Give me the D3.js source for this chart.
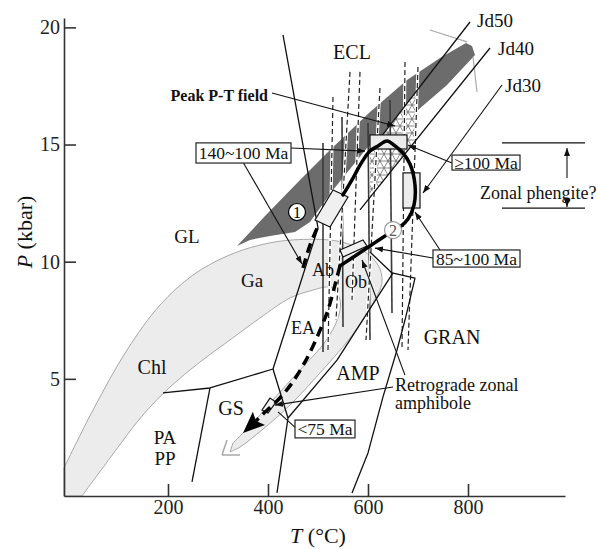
<!DOCTYPE html>
<html><head><meta charset="utf-8">
<script src="https://cdn.jsdelivr.net/npm/d3@7"></script>
<style>body{margin:0;background:#fff}svg{display:block}</style>
</head><body>
<svg id="c" width="598" height="549"></svg>
<script>
// ---------- data (T in °C, P in kbar) ----------
const tickP = [5, 10, 15, 20];
const tickT = [200, 400, 600, 800];

const darkBand = [[338,10.67],[394,11.95],[464,13.49],[524,14.77],[604,16.39],[678,17.75],[744,18.69],[796,19.33],[808,19.21],[814,18.82],[758,17.54],[700,16.47],[598,14.85],[530,13.06],[484,11.69],[454,11.27],[404,11.1],[364,10.93]];
const bandOuter = [[-8,1.2],[50,3.67],[118,6.23],[184,8.15],[250,9.43],[318,10.24],[384,10.71],[450,10.93],[538,10.88],[588,10.5],[620,9.86],[628,9.13],[608,8.15],[564,6.74],[500,5.16],[444,3.88],[388,2.82],[344,2.09],[324,1.88]];
const bandInner = [[330,2.26],[370,3.12],[410,4.1],[464,5.38],[514,6.57],[540,7.6],[544,8.37],[526,8.9],[484,8.75],[444,8.45],[384,7.6],[324,6.66],[264,5.72],[204,4.65],[150,3.46],[84,1.62],[28,0]];
const bandCorner = [-8, 0];
const bandArrowTip = [308, 1.75];
const bandArrowBarbs = [[344, 1.75], [318, 2.39]];
const greyLines = [[[724,19.89],[798,19.38]], [[810,18.74],[818,17.24]]];

const peakField = [[604,14.72],[698,17.33],[698,15.24],[604,12.72]];

// vertical isopleth-like lines: top T, top P, bottom T, bottom P, dashed?
const vTopT = [510, 530, 548, 564, 584, 600, 624, 644, 674, 700];
const vTopP = [15.07, 17.03, 16.18, 18.1, 18.1, 15.92, 17.41, 16.9, 18.52, 18.31];
const vBotT = [510, 520, 550, 536, 568, 604, 596, 648, 668, 680];
const vBotP = [6.15, 6.23, 7.21, 7.51, 8.37, 6.66, 6.66, 7.81, 6.23, 6.23];
const vDashed = [false, true, false, true, true, false, true, false, true, true];

const faciesLines = [
  [[430,19.68],[500,11.44],[410,5.42]],
  [[190,4.4],[284,4.61],[410,5.42]],
  [[284,4.61],[248,0.6]],
  [[410,5.42],[440,3.33],[418,0.13]],
  [[440,3.33],[538,5.8],[650,9.52]],
  [[604,10.41],[648,9.52],[694,9.3],[674,7.51],[658,6.23],[630,4.23],[600,1.84],[568,0.13]]
];
const jdLines = [
  [[804,20.23],[604,14.72]],
  [[844,19.12],[584,12.21]]
];
// leader lines: from, to, arrow?
const leaderFrom = [[408,17.2],[446,14.85],[344,14.47],[768,14.21],[730,10.16],[744,10.5],[674,5.16],[650,4.65],[456,2.9],[868,17.54]];
const leaderTo   = [[654,15.79],[594,14.72],[468,9.9],[680,14.98],[614,10.58],[694,12.12],[588,10.07],[414,3.88],[420,3.59],[710,12.93]];
const leaderArrow = [true, true, true, true, true, true, true, true, false, true];

// sample rectangles (light filled)
const rectTilted = [
  [[494,11.78],[530,13.06],[560,12.76],[524,11.48]],
  [[544,10.5],[590,10.93],[598,10.67],[550,10.2]],
  [[388,3.67],[404,4.18],[416,4.01],[400,3.54]]
];
const rectAxis = [[604,15.41,678,14.81],[670,13.79,704,12.29]];

// P-T path
const pathSolid = [[550,12.85],[570,13.57],[588,14.26],[604,14.72],[620,14.94],[638,15.15],[654,14.94],[668,14.68],[684,14.17],[694,13.27],[692,12.42],[680,11.82],[664,11.48],[634,11.1],[604,10.67],[574,10.24],[544,9.82]];
const pathPrograde = [[470,9.73],[484,10.71],[500,11.52]];
const pathRetro = [[544,9.82],[534,9.01],[520,7.94],[500,6.87],[476,5.8],[448,4.82],[420,4.1],[388,3.46],[376,3.2]];
const retroTip = [350, 2.69];

const circleLabels = [["1", 458, 12.12, "#000", "#000"], ["2", 650, 11.35, "#999", "#555"]];

// boxed age labels: text, T1, P1, T2, P2
const boxText = ["140~100 Ma", "≥100 Ma", "85~100 Ma", "<75 Ma"];
const boxT1 = [256, 768, 730, 454];
const boxP1 = [15.07, 14.55, 10.5, 3.24];
const boxT2 = [446, 904, 904, 574];
const boxP2 = [14.21, 13.91, 9.77, 2.48];

// free labels: text, T, P, size, anchor, weight
const labels = [
  ["ECL", 568, 18.95, 20, "middle", "normal"],
  ["Peak P-T field", 400, 17.11, 16, "end", "bold"],
  ["GL", 238, 11.1, 19, "middle", "normal"],
  ["Ga", 368, 9.22, 19, "middle", "normal"],
  ["Ab", 510, 9.65, 18, "middle", "normal"],
  ["Ob", 576, 9.13, 18, "middle", "normal"],
  ["EA", 470, 7.17, 18, "middle", "normal"],
  ["Chl", 168, 5.51, 20, "middle", "normal"],
  ["GS", 326, 3.76, 20, "middle", "normal"],
  ["PA", 194, 2.52, 19, "middle", "normal"],
  ["PP", 194, 1.62, 19, "middle", "normal"],
  ["AMP", 580, 5.25, 20, "middle", "normal"],
  ["GRAN", 768, 6.79, 20, "middle", "normal"],
  ["Retrograde zonal", 654, 4.74, 18, "start", "normal"],
  ["amphibole", 654, 3.97, 18, "start", "normal"],
  ["Jd50", 818, 20.32, 19, "start", "normal"],
  ["Jd40", 860, 19.12, 19, "start", "normal"],
  ["Jd30", 874, 17.54, 19, "start", "normal"],
  ["Zonal phengite?", 824, 12.93, 18, "start", "normal"]
];
const zonalBarsP = [15.07, 12.29];
const zonalBarsT = [868, 1034];
const zonalArrowT = 998;
const zonalArrowUp = [13.57, 14.85];
const zonalArrowDown = [12.63, 12.33];

// ---------- drawing ----------
const FONT = "'Liberation Serif','Times New Roman',serif";
const svg = d3.select("#c");
const x = d3.scaleLinear().domain([-8, 994]).range([64, 565]);
const y = d3.scaleLinear().domain([0, 20.4]).range([496, 18]);
const line = d3.line().x(d => x(d[0])).y(d => y(d[1]));
const curve = d3.line().x(d => x(d[0])).y(d => y(d[1])).curve(d3.curveCatmullRom.alpha(0.5));

const defs = svg.append("defs");
defs.append("marker").attr("id", "arr").attr("viewBox", "0 0 8 6").attr("refX", 8).attr("refY", 3)
  .attr("markerWidth", 8).attr("markerHeight", 6).attr("markerUnits", "userSpaceOnUse").attr("orient", "auto")
  .append("path").attr("d", "M0,0L8,3L0,6Z").attr("fill", "#111");
const pat = defs.append("pattern").attr("id", "tri").attr("patternUnits", "userSpaceOnUse")
  .attr("width", 8).attr("height", 14);
pat.append("rect").attr("width", 8).attr("height", 14).attr("fill", "#fff");
pat.append("path").attr("d", "M0,0L8,14M8,0L0,14M0,0L8,0M0,7L8,7M0,14L8,14")
  .attr("stroke", "#555").attr("stroke-width", 0.7).attr("fill", "none");

// light band
const dBand = curve(bandOuter) + "L" + curve(bandInner).slice(1) + "L" + x(bandCorner[0]) + "," + y(bandCorner[1]) + "Z";
svg.append("path").attr("d", dBand).attr("fill", "#ececec").attr("stroke", "#a8a8a8").attr("stroke-width", 1);
bandArrowBarbs.forEach(b => svg.append("path").attr("d", line([bandArrowTip, b]))
  .attr("stroke", "#a8a8a8").attr("stroke-width", 1.5).attr("fill", "none"));

// dark band
svg.append("path").attr("d", line(darkBand) + "Z").attr("fill", "#6c6c6c").attr("stroke", "none");
greyLines.forEach(g => svg.append("path").attr("d", line(g)).attr("stroke", "#aaa").attr("stroke-width", 1.2).attr("fill", "none"));

// peak field hatch
svg.append("path").attr("d", line(peakField) + "Z").attr("fill", "url(#tri)").attr("stroke", "none");

// vertical lines
vTopT.forEach((t, i) => {
  const pts = [[t, vTopP[i]], [vBotT[i], vBotP[i]]];
  if (vDashed[i]) {
    svg.append("path").attr("d", line(pts)).attr("stroke", "#fff").attr("stroke-width", 3).attr("fill", "none");
    svg.append("path").attr("d", line(pts)).attr("stroke", "#222").attr("stroke-width", 1.2)
      .attr("stroke-dasharray", "5,3").attr("fill", "none");
  } else {
    svg.append("path").attr("d", line(pts)).attr("stroke", "#3a3a3a").attr("stroke-width", 1.6).attr("fill", "none");
  }
});

// facies boundaries and Jd lines
faciesLines.concat(jdLines).forEach(l => svg.append("path").attr("d", line(l))
  .attr("stroke", "#111").attr("stroke-width", 1.3).attr("fill", "none").attr("stroke-linejoin", "round"));

// leaders
leaderFrom.forEach((f, i) => {
  const p = svg.append("path").attr("d", line([f, leaderTo[i]])).attr("stroke", "#111")
    .attr("stroke-width", 1.1).attr("fill", "none");
  if (leaderArrow[i]) p.attr("marker-end", "url(#arr)");
});

// zonal phengite markers
zonalBarsP.forEach(p => svg.append("path").attr("d", line([[zonalBarsT[0], p], [zonalBarsT[1], p]]))
  .attr("stroke", "#111").attr("stroke-width", 1.2));
svg.append("path").attr("d", line([[zonalArrowT, zonalArrowUp[0]], [zonalArrowT, zonalArrowUp[1]]]))
  .attr("stroke", "#111").attr("stroke-width", 1.1).attr("marker-end", "url(#arr)");
svg.append("path").attr("d", line([[zonalArrowT, zonalArrowDown[0]], [zonalArrowT, zonalArrowDown[1]]]))
  .attr("stroke", "#111").attr("stroke-width", 1.1).attr("marker-end", "url(#arr)");

// axes
const ax = svg.append("g").attr("transform", `translate(${x(-8)},0)`)
  .call(d3.axisLeft(y).tickValues(tickP).tickSize(-12).tickSizeOuter(0).tickPadding(4));
const bx = svg.append("g").attr("transform", `translate(0,${y(0)})`)
  .call(d3.axisBottom(x).tickValues(tickT).tickSize(-12).tickSizeOuter(0).tickPadding(4));
[ax, bx].forEach(g => {
  g.selectAll("path,line").attr("stroke", "#333").attr("stroke-width", 1.6);
  g.selectAll("text").attr("font-family", FONT).attr("font-size", 20).attr("fill", "#222");
});

// rectangles
rectTilted.forEach(r => svg.append("path").attr("d", line(r) + "Z").attr("fill", "#f0f0f0")
  .attr("stroke", "#111").attr("stroke-width", 1.2));
rectAxis.forEach(r => svg.append("rect").attr("x", x(r[0])).attr("y", y(r[1]))
  .attr("width", x(r[2]) - x(r[0])).attr("height", y(r[3]) - y(r[1]))
  .attr("fill", "#ececec").attr("stroke", "#111").attr("stroke-width", 1.2));

// P-T path
svg.append("path").attr("d", curve(pathSolid)).attr("fill", "none").attr("stroke", "#000")
  .attr("stroke-width", 3.5).attr("stroke-linecap", "round");
svg.append("path").attr("d", curve(pathPrograde)).attr("fill", "none").attr("stroke", "#000")
  .attr("stroke-width", 3.5).attr("stroke-dasharray", "10,6");
svg.append("path").attr("d", curve(pathRetro)).attr("fill", "none").attr("stroke", "#000")
  .attr("stroke-width", 3.5).attr("stroke-dasharray", "10,6");
{
  const b = pathRetro[pathRetro.length - 1];
  const bx0 = x(b[0]), by0 = y(b[1]), tx = x(retroTip[0]), ty = y(retroTip[1]);
  const L = Math.hypot(tx - bx0, ty - by0), nx = -(ty - by0) / L, ny = (tx - bx0) / L;
  const back = 4, bbx = bx0 - (tx - bx0) / L * back, bby = by0 - (ty - by0) / L * back;
  svg.append("path").attr("d", `M${tx},${ty}L${bbx + nx * 9},${bby + ny * 9}L${bx0},${by0}L${bbx - nx * 9},${bby - ny * 9}Z`)
    .attr("fill", "#000");
}

// circled numbers
circleLabels.forEach(c => {
  svg.append("circle").attr("cx", x(c[1])).attr("cy", y(c[2])).attr("r", 8.5)
    .attr("fill", "#fff").attr("stroke", c[3]).attr("stroke-width", 1.2);
  svg.append("text").attr("x", x(c[1])).attr("y", y(c[2])).attr("dy", "0.36em").attr("text-anchor", "middle")
    .attr("font-family", FONT).attr("font-size", 16).attr("fill", c[4]).text(c[0]);
});

// boxed ages
boxText.forEach((t, i) => {
  svg.append("rect").attr("x", x(boxT1[i])).attr("y", y(boxP1[i]))
    .attr("width", x(boxT2[i]) - x(boxT1[i])).attr("height", y(boxP2[i]) - y(boxP1[i]))
    .attr("fill", "#fff").attr("stroke", "#222").attr("stroke-width", 1.2);
  svg.append("text").attr("x", (x(boxT1[i]) + x(boxT2[i])) / 2).attr("y", (y(boxP1[i]) + y(boxP2[i])) / 2)
    .attr("dy", "0.35em").attr("text-anchor", "middle").attr("font-family", FONT).attr("font-size", 17.5)
    .attr("fill", "#111").text(t);
});

// labels
labels.forEach(l => svg.append("text").attr("x", x(l[1])).attr("y", y(l[2])).attr("dy", "0.35em")
  .attr("text-anchor", l[4]).attr("font-family", FONT).attr("font-size", l[3]).attr("font-weight", l[5])
  .attr("fill", "#111").text(l[0]));

// axis titles
const yt = svg.append("text").attr("transform", "translate(32,232) rotate(-90)").attr("text-anchor", "middle")
  .attr("font-family", FONT).attr("font-size", 22).attr("fill", "#111");
yt.append("tspan").attr("font-style", "italic").text("P");
yt.append("tspan").text(" (kbar)");
const xt = svg.append("text").attr("x", 318).attr("y", 543).attr("text-anchor", "middle")
  .attr("font-family", FONT).attr("font-size", 22).attr("fill", "#111");
xt.append("tspan").attr("font-style", "italic").text("T");
xt.append("tspan").text(" (°C)");
</script>
</body></html>
